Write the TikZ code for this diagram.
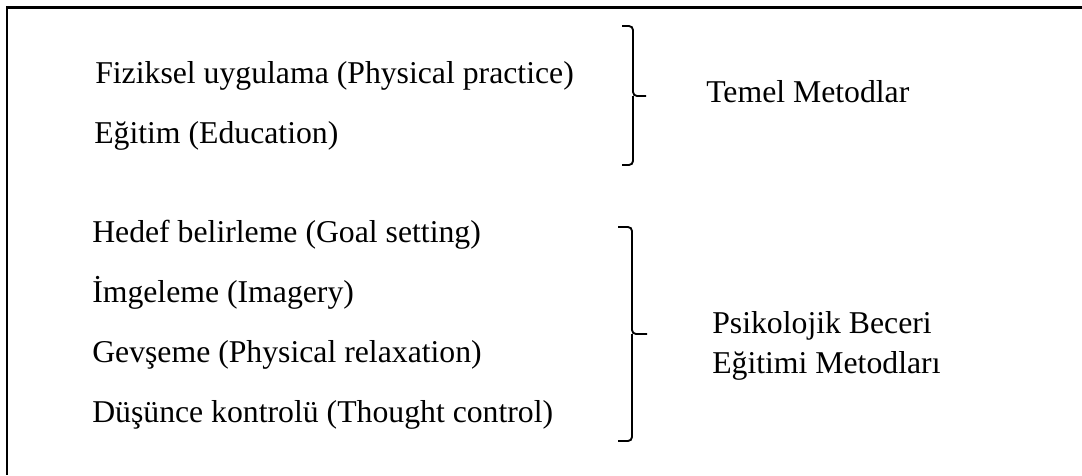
\documentclass[tikz,border=0pt]{standalone}
\usepackage{fontspec}
\setmainfont{Liberation Serif}
\begin{document}
\begin{tikzpicture}[x=0.75pt,y=-0.75pt,
  lbl/.style={anchor=base west, inner sep=0pt, font=\fontsize{23.8}{28}\selectfont},
  bracebox/.style={line width=1.4pt, rounded corners=3pt},
  framebox/.style={line width=1.7pt}]
\useasboundingbox (0,0) rectangle (1082,475);
% frame (only top and left edges visible)
\coordinate (fTL) at (7,7.5);
\coordinate (fTR) at (1082,7.5);
\coordinate (fBL) at (7,475);
\draw[framebox] (fTR) -- (fTL) -- (fBL);
% left texts
\node[lbl] (fiz) at (95,83) {Fiziksel uygulama (Physical practice)};
\node[lbl] (egt) at (94,143) {Eğitim (Education)};
\node[lbl] (hed) at (92,242) {Hedef belirleme (Goal setting)};
\node[lbl] (img) at (92,302) {İmgeleme (Imagery)};
\node[lbl] (gev) at (92,362) {Gevşeme (Physical relaxation)};
\node[lbl] (dus) at (92,422) {Düşünce kontrolü (Thought control)};
% right labels
\node[lbl] (tem) at (706,102) {Temel Metodlar};
\node[lbl] (psi) at (712,333) {Psikolojik Beceri};
\node[lbl] (egm) at (712,373) {Eğitimi Metodları};
% brace 1
\coordinate (b1t) at (622,26);
\coordinate (b1m) at (633,96);
\coordinate (b1p) at (646,96);
\coordinate (b1b) at (622,165);
\draw[bracebox] (b1t) -| (b1m) -- (b1p);
\draw[bracebox] (b1m) |- (b1b);
% brace 2
\coordinate (b2t) at (618,227);
\coordinate (b2m) at (632,334);
\coordinate (b2p) at (647,334);
\coordinate (b2b) at (618,441);
\draw[bracebox] (b2t) -| (b2m) -- (b2p);
\draw[bracebox] (b2m) |- (b2b);
\end{tikzpicture}
\end{document}
